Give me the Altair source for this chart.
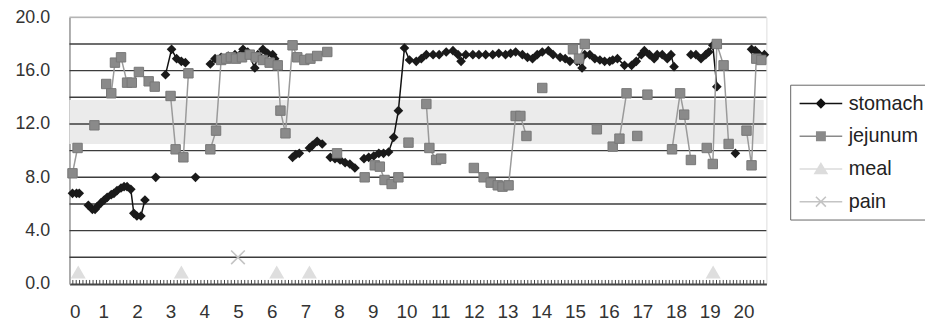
import altair as alt
import pandas as pd

# ---------------- data (hours, value); None = gap in the trace ----------------
stomach = [
    (0.09, 6.8), (0.21, 6.8), (0.29, 6.8), None,
    (0.56, 5.9), (0.68, 5.6), (0.76, 5.6), (0.82, 5.8), (0.94, 6.1), (1.03, 6.3), (1.12, 6.5),
    (1.24, 6.7), (1.32, 6.8), (1.41, 7.0), (1.53, 7.2), (1.62, 7.3), (1.71, 7.3), (1.82, 7.1),
    (1.91, 5.3), (2.0, 5.1), (2.12, 5.1), (2.24, 6.3), None,
    (2.56, 8.0), None,
    (2.85, 15.7), (3.03, 17.6), (3.18, 16.9), (3.32, 16.7), (3.44, 16.6), None,
    (3.74, 8.0), None,
    (4.18, 16.5), (4.32, 16.9), (4.5, 17.0), (4.71, 17.1), (4.91, 17.2), (5.15, 17.6), (5.29, 17.4),
    (5.5, 16.2), (5.59, 17.2), (5.74, 17.6), (5.88, 17.3), (6.03, 17.2), (6.09, 16.9), (6.18, 16.4), None,
    (6.62, 9.5), (6.71, 9.7), (6.82, 9.8), None,
    (7.12, 10.2), (7.21, 10.4), (7.35, 10.7), (7.5, 10.5), None,
    (7.74, 9.5), (7.88, 9.4), (8.03, 9.3), (8.18, 9.1), (8.32, 9.0), (8.47, 8.7), None,
    (8.74, 9.4), (8.88, 9.5), (9.03, 9.6), (9.18, 9.8), (9.32, 9.8), (9.47, 9.9), (9.62, 11.0),
    (9.76, 13.0), (9.94, 17.7), (10.09, 16.8), (10.29, 16.7), (10.44, 16.9), (10.59, 17.2),
    (10.79, 17.2), (10.97, 17.2), (11.18, 17.4), (11.38, 17.5), (11.53, 17.2), (11.62, 16.7),
    (11.76, 17.2), (11.97, 17.2), (12.15, 17.2), (12.35, 17.2), (12.56, 17.2), (12.74, 17.3),
    (12.94, 17.2), (13.09, 17.3), (13.24, 17.4), (13.44, 17.2), (13.59, 17.0), (13.74, 16.9),
    (13.88, 17.2), (14.03, 17.4), (14.21, 17.5), (14.35, 17.2), (14.56, 17.0), (14.71, 16.9),
    (14.85, 16.7), (15.06, 16.7), (15.21, 16.2), (15.29, 17.2), (15.44, 17.2), (15.59, 16.9),
    (15.74, 16.8), (15.88, 16.7), (16.03, 16.7), (16.12, 16.8), (16.26, 16.9), (16.47, 16.4),
    (16.68, 16.4), (16.82, 16.7), (16.97, 17.2), (17.06, 17.5), (17.21, 17.2), (17.35, 16.9),
    (17.44, 17.2), (17.59, 17.2), (17.74, 16.9), (17.85, 17.2), (17.94, 16.3), None,
    (18.44, 17.2), (18.59, 17.2), (18.74, 16.9), (18.88, 17.2), (18.97, 17.4), (19.09, 17.9),
    (19.21, 14.8), None,
    (19.76, 9.8), None,
    (20.24, 17.6), (20.35, 17.5), (20.47, 17.2), (20.62, 17.2),
]

jejunum = [
    (0.09, 8.3), (0.24, 10.2), None,
    (0.74, 11.9), None,
    (1.09, 15.0), (1.24, 14.3), (1.35, 16.6), (1.53, 17.0), (1.71, 15.1), (1.85, 15.1),
    (2.06, 15.9), (2.35, 15.2), (2.53, 14.8), None,
    (3.0, 14.1), (3.15, 10.1), (3.38, 9.5), (3.53, 15.8), None,
    (4.18, 10.1), (4.35, 11.5), (4.5, 16.8), (4.65, 16.9), (4.79, 17.0), (4.94, 16.9), (5.12, 17.0),
    (5.35, 17.2), (5.53, 17.0), (5.74, 16.8), (5.94, 16.6), (6.18, 16.4), (6.26, 13.0), (6.41, 11.3),
    (6.62, 17.9), (6.76, 17.0), (6.97, 16.8), (7.15, 16.9), (7.35, 17.1), (7.65, 17.4), None,
    (7.94, 9.8), None,
    (8.76, 8.0), None,
    (9.06, 8.9), (9.21, 8.8), (9.35, 7.8), (9.56, 7.5), (9.76, 8.0), None,
    (10.06, 10.6), None,
    (10.59, 13.5), (10.68, 10.2), (10.88, 9.3), (11.03, 9.4), None,
    (12.0, 8.7), (12.29, 8.0), (12.5, 7.6), (12.71, 7.4), (12.85, 7.3), (13.03, 7.4),
    (13.24, 12.6), (13.38, 12.6), (13.56, 11.1), None,
    (14.03, 14.7), None,
    (14.94, 17.6), (15.12, 16.9), (15.29, 18.0), None,
    (15.65, 11.6), None,
    (16.12, 10.3), (16.32, 10.9), (16.53, 14.3), None,
    (16.85, 11.1), None,
    (17.15, 14.2), None,
    (17.88, 10.1), (18.12, 14.3), (18.24, 12.7), (18.44, 9.3), None,
    (18.91, 10.2), (19.09, 9.0), (19.21, 18.0), (19.41, 16.4), (19.56, 10.5), None,
    (20.09, 11.5), (20.24, 8.9), (20.38, 16.9), (20.53, 16.8),
]

meal_t = [0.26, 3.32, 6.15, 7.12, 19.1]
meal_v = [0.9, 0.9, 0.9, 0.9, 0.9]
pain_t = [5.0]
pain_v = [2.0]

band_low, band_high = 10.5, 13.8
x_labels = list(range(0, 21))
y_labels = [0, 2, 4, 6, 8, 10, 12, 14, 16, 18, 20]
minor_ticks = [round(0.1 * k, 1) for k in range(1, 207)]
series_names = ["stomach", "jejunum", "meal", "pain"]


def to_frame(pairs):
    rows, seg = [], 0
    for p in pairs:
        if p is None:
            seg += 1
            continue
        rows.append({"t": p[0], "v": p[1], "seg": seg})
    return pd.DataFrame(rows)


stomach_df = to_frame(stomach)
jejunum_df = to_frame(jejunum)
meal_df = pd.DataFrame({"t": meal_t, "v": meal_v})
pain_df = pd.DataFrame({"t": pain_t, "v": pain_v})
band_df = pd.DataFrame({"t": [0.0], "t2": [20.6], "v": [band_low], "v2": [band_high]})
grid_df = pd.DataFrame({"v": [y for y in y_labels if 0 < y < 20]})
top_df = pd.DataFrame({"v": [20]})
tick_df = pd.DataFrame({"t": minor_ticks})
legend_df = pd.DataFrame({"series": series_names})

FONT = "Liberation Sans"
x_scale = alt.Scale(domain=[0, 20.68], nice=False, zero=False)
y_scale = alt.Scale(domain=[0, 20], nice=False, zero=True)

x_axis = alt.Axis(values=x_labels, ticks=False, grid=False, title=None, labelFont=FONT,
                  labelFontSize=19, labelColor="#333", labelPadding=19, domainColor="#444",
                  domainWidth=2, labelOverlap=False)
y_axis = alt.Axis(values=y_labels, format=".1f", ticks=False, grid=False, title=None,
                  labelFont=FONT, labelFontSize=18, labelColor="#333", labelPadding=20,
                  domainColor="#999", domainWidth=1.5)

X = alt.X("t:Q", scale=x_scale, axis=x_axis, title=None)
Y = alt.Y("v:Q", scale=y_scale, axis=y_axis, title=None)

band = alt.Chart(band_df).mark_rect(color="#ebebeb").encode(x=X, x2="t2:Q", y=Y, y2="v2:Q")
grid = alt.Chart(grid_df).mark_rule(color="#3c3c3c", strokeWidth=1.4).encode(y=Y)
top = alt.Chart(top_df).mark_rule(color="#b5b5b5", strokeWidth=1.5).encode(y=Y)
ticks = alt.Chart(tick_df).mark_rule(color="#444", strokeWidth=1).encode(
    x=X, y=alt.datum(0, scale=y_scale), y2=alt.datum(0.3))

st_line = alt.Chart(stomach_df).mark_line(color="#111", strokeWidth=1.5).encode(
    x=X, y=Y, detail="seg:N")
st_pts = alt.Chart(stomach_df).mark_point(shape="diamond", filled=True, size=95,
                                          color="#1a1a1a", opacity=1).encode(x=X, y=Y)
je_line = alt.Chart(jejunum_df).mark_line(color="#9a9a9a", strokeWidth=1.5).encode(
    x=X, y=Y, detail="seg:N")
je_pts = alt.Chart(jejunum_df).mark_point(shape="square", filled=True, size=90, fill="#8a8a8a",
                                          stroke="#777", strokeWidth=1, opacity=1).encode(x=X, y=Y)
meal_pts = alt.Chart(meal_df).mark_point(shape="triangle-up", filled=True, size=230,
                                         color="#dedede", opacity=1).encode(x=X, y=Y)
pain_pts = alt.Chart(pain_df).mark_point(shape="M-1,-1L1,1M-1,1L1,-1", filled=False, size=190,
                                         color="#c4c4c4", strokeWidth=1.6, opacity=1).encode(x=X, y=Y)

# legend symbols: a line segment with the series marker (paths scaled for symbolSize 400)
legend_paths = [
    "M-2.15,0H2.15M0,-0.42L0.42,0L0,0.42L-0.42,0Z",
    "M-2.15,0H2.15M-0.42,-0.42H0.42V0.42H-0.42Z",
    "M-2.15,0H2.15M0,-0.55L0.6,0.45H-0.6Z",
    "M-2.15,0H2.15M-0.5,-0.5L0.5,0.5M-0.5,0.5L0.5,-0.5",
]
legend_fill = ["#111", "#8a8a8a", "#dcdcdc", "#c4c4c4"]
legend_stroke = ["#111", "#8a8a8a", "#dcdcdc", "#c4c4c4"]


def make_legend():
    return alt.Legend(orient="none", legendX=727, legendY=68, title=None, labelFont=FONT,
                      labelFontSize=20, labelColor="#222", symbolSize=400,
                      symbolStrokeWidth=1.6, rowPadding=12, padding=8, strokeColor="#666",
                      fillColor="white", symbolOffset=12, labelOffset=17, symbolOpacity=1)


legend_layer = alt.Chart(legend_df).mark_point(filled=True, opacity=1).encode(
    shape=alt.Shape("series:N", scale=alt.Scale(domain=series_names, range=legend_paths),
                    legend=make_legend()),
    fill=alt.Fill("series:N", scale=alt.Scale(domain=series_names, range=legend_fill),
                  legend=make_legend()),
    stroke=alt.Stroke("series:N", scale=alt.Scale(domain=series_names, range=legend_stroke),
                      legend=make_legend()),
).transform_filter("false")

chart = alt.layer(
    band, grid, top, ticks, st_line, st_pts, je_line, je_pts, meal_pts, pain_pts, legend_layer
).properties(
    width=703, height=269, autosize="none",
    padding={"left": 62, "top": 8, "right": 160, "bottom": 42},
).configure_view(stroke=None).configure(background="white")

chart.save("out.html", embed_options={"renderer": "svg", "actions": False})
